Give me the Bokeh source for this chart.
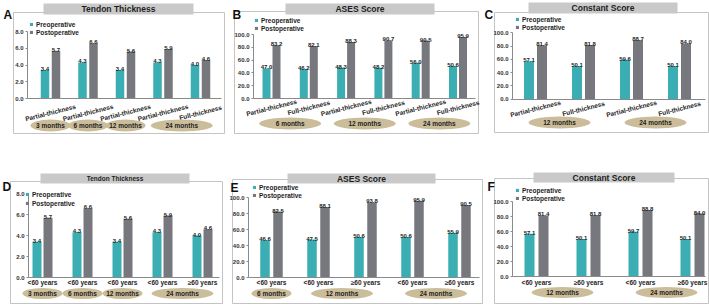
from bokeh.plotting import figure
from bokeh.models import (Range1d, FixedTicker, PrintfTickFormatter, BoxAnnotation,
                          Label, Legend, LegendItem)
from bokeh.layouts import column, row
from bokeh.core.properties import value
from bokeh.embed import file_html
from bokeh.resources import INLINE

# ---------------- data ----------------
A_pre = [3.4, 4.3, 3.4, 4.3, 4.0]
A_post = [5.7, 6.6, 5.6, 5.9, 4.6]
A_cats = ["Partial-thickness", "Partial-thickness", "Partial-thickness", "Partial-thickness", "Full-thickness"]
A_periods = ["3 months", "6 months", "12 months", "24 months"]
A_period_of = [0, 1, 2, 3, 3]

B_pre = [47.0, 46.2, 48.3, 48.2, 56.0, 50.6]
B_post = [83.2, 82.1, 88.3, 90.7, 90.5, 95.9]
B_cats = ["Partial-thickness", "Full-thickness", "Partial-thickness", "Full-thickness", "Partial-thickness", "Full-thickness"]
B_periods = ["6 months", "12 months", "24 months"]
B_period_of = [0, 0, 1, 1, 2, 2]

C_pre = [57.1, 50.1, 59.6, 50.1]
C_post = [81.4, 81.8, 88.7, 84.0]
C_cats = ["Partial-thickness", "Full-thickness", "Partial-thickness", "Full-thickness"]
C_periods = ["12 months", "24 months"]
C_period_of = [0, 0, 1, 1]

D_pre = [3.4, 4.3, 3.4, 4.3, 4.0]
D_post = [5.7, 6.6, 5.6, 5.9, 4.6]
D_cats = ["<60 years", "<60 years", "<60 years", "<60 years", "\u226560 years"]
D_periods = ["3 months", "6 months", "12 months", "24 months"]
D_period_of = [0, 1, 2, 3, 3]

E_pre = [46.6, 47.5, 50.6, 50.6, 55.9]
E_post = [82.5, 88.1, 93.8, 95.9, 90.5]
E_cats = ["<60 years", "<60 years", "\u226560 years", "<60 years", "\u226560 years"]
E_periods = ["6 months", "12 months", "24 months"]
E_period_of = [0, 1, 1, 2, 2]

F_pre = [57.1, 50.1, 59.7, 50.1]
F_post = [81.4, 81.8, 88.8, 84.0]
F_cats = ["<60 years", "\u226560 years", "<60 years", "\u226560 years"]
F_periods = ["12 months", "24 months"]
F_period_of = [0, 0, 1, 1]

thick_ticks = [0, 2, 4, 6, 8]
score_ticks = [0, 20, 40, 60, 80, 100]

# ---------------- style ----------------
TEAL = "#3aaeb2"
GRAY = "#77787d"
TAN = "#cbbd9a"
BARC = "#c9c9c9"
BOXC = "#c4c4c4"
AX = "#8a8a8a"
TXT = "#1e1e1e"
FONT = "Liberation Sans"


def panel(letter, title, pre, post, cats, periods, period_of, yticks, g):
    W, H = g["W"], g["H"]
    p = figure(width=W, height=H, output_backend="svg", toolbar_location=None,
               min_border=0, min_border_left=0, min_border_right=0,
               min_border_top=0, min_border_bottom=0)
    p.outline_line_color = None
    p.grid.visible = False
    sp = g["sp"]
    s = g["s"]
    x0 = -g["g0"] / sp
    p.x_range = Range1d(x0, x0 + W / sp)
    p.y_range = Range1d(-(H - g["base"]) / s, g["base"] / s)

    def dx(px):
        return x0 + px / sp

    def dy(px):
        return (g["base"] - px) / s

    bl, br, bt, bb = g["box"]

    # y axis (placed inside the frame at the axis position)
    ya = p.yaxis[0]
    ya.fixed_location = dx(g["axis"])
    ya.ticker = FixedTicker(ticks=yticks)
    ya.formatter = PrintfTickFormatter(format="%.1f")
    ya.bounds = (yticks[0], yticks[-1])
    ya.major_tick_out = 2
    ya.major_tick_in = 0
    ya.minor_tick_out = 0
    ya.minor_tick_in = 0
    ya.axis_line_color = AX
    ya.major_tick_line_color = AX
    ya.major_label_standoff = 2
    ya.major_label_text_font = FONT
    ya.major_label_text_font_style = "bold"
    ya.major_label_text_font_size = "6px"
    ya.major_label_text_color = "#333333"

    # x axis used as the zero baseline only
    xa = p.xaxis[0]
    xa.fixed_location = 0
    xa.bounds = (dx(g["axis"]), dx(br - 3))
    xa.ticker = FixedTicker(ticks=[])
    xa.major_tick_line_color = None
    xa.minor_tick_line_color = None
    xa.major_label_text_font_size = "0px"
    xa.axis_line_color = AX

    # outer box and title bar
    p.add_layout(BoxAnnotation(left=dx(bl), right=dx(br), top=dy(bt), bottom=dy(bb),
                               fill_alpha=0, line_color=BOXC, line_alpha=1, line_width=1,
                               level="underlay"))
    tl, tr, tt, tb = g["tbar"]
    p.add_layout(BoxAnnotation(left=dx(tl), right=dx(tr), top=dy(tt), bottom=dy(tb),
                               fill_color=BARC, fill_alpha=1, line_color=None))

    n = len(pre)
    idx = list(range(n))
    bw = g["bw"] / sp
    off = g["off"] / sp
    r1 = p.vbar(x=[i - off for i in idx], top=pre, width=bw, fill_color=TEAL, line_color=None)
    r2 = p.vbar(x=[i + off for i in idx], top=post, width=bw, fill_color=GRAY, line_color=None)

    common = dict(text_font=value(FONT), text_font_style="bold", text_color=TXT,
                  text_align="center")
    p.text(x=[i - off for i in idx], y=pre, text=["%.1f" % v for v in pre],
           text_baseline="alphabetic", y_offset=-1, text_font_size="6px", **common)
    p.text(x=[i + off for i in idx], y=post, text=["%.1f" % v for v in post],
           text_baseline="alphabetic", y_offset=-1, text_font_size="6px", **common)

    p.text(x=idx, y=[dy(g["xl"])] * n, text=cats, angle=g["ang"],
           text_baseline="middle", text_font_size="6.5px", **common)

    cx, cw = [], []
    for k in range(len(periods)):
        members = [i for i in idx if period_of[i] == k]
        cx.append(sum(members) / len(members))
        cw.append(40 if len(members) == 1 else 62)
    ey = dy(g["el"])
    p.ellipse(x=cx, y=[ey] * len(cx), width=cw, height=g["eh"],
              width_units="screen", height_units="screen",
              fill_color=TAN, line_color=None)
    p.text(x=cx, y=[ey] * len(cx), text=periods, text_baseline="middle",
           text_font_size="6.5px", **common)

    p.add_layout(Label(x=dx((tl + tr) / 2), y=dy((tt + tb) / 2),
                       text=title, text_align="center", text_baseline="middle",
                       text_font=FONT, text_font_style="bold",
                       text_font_size=g["tsize"], text_color=TXT))
    lx, ly = g["letter"]
    p.add_layout(Label(x=dx(lx), y=dy(ly), text=letter,
                       text_align="left", text_baseline="top", text_font=FONT,
                       text_font_style="bold", text_font_size="12px", text_color="#111111"))

    lgx, lgy = g["leg"]
    lh = g["lh"]
    leg = Legend(items=[LegendItem(label="Preoperative", renderers=[r1]),
                        LegendItem(label="Postoperative", renderers=[r2])],
                 location=(lgx, H - lgy - 2 * lh), orientation="vertical",
                 glyph_width=4, glyph_height=4, label_height=lh, spacing=0,
                 padding=0, margin=0, label_standoff=3,
                 border_line_color=None, background_fill_alpha=0,
                 label_text_font=FONT, label_text_font_style="bold",
                 label_text_font_size="6.5px", label_text_color=TXT)
    p.add_layout(leg)
    return p


# layout geometry (pixels inside each panel)
gA = dict(W=231, H=140, axis=27, base=98, s=67 / 8, g0=50, sp=37.5,
          bw=8.5, off=5.5, xl=112, ang=0.25, el=125, eh=12,
          box=(13, 224, 12, 133), tbar=(43, 193, 3, 14), tsize="8.5px",
          letter=(3, 7.7), leg=(29, 20), lh=8)
gB = dict(W=250, H=140, axis=22, base=98, s=0.64, g0=40, sp=37.3,
          bw=8, off=5, xl=107, ang=0.25, el=123, eh=12,
          box=(3, 247, 11, 133), tbar=(54, 203, 3, 14), tsize="8.5px",
          letter=(1, 7.7), leg=(23, 16), lh=8)
gC = dict(W=228, H=140, axis=31, base=98.7, s=0.664, g0=54, sp=48,
          bw=10, off=6.5, xl=108, ang=0.25, el=122, eh=12,
          box=(13, 227, 12, 132), tbar=(47, 196, 2, 13), tsize="8.5px",
          letter=(3, 7.7), leg=(34, 15), lh=8)
gD = dict(W=229, H=165, axis=28, base=137, s=10.5, g0=42, sp=40,
          bw=9, off=5.5, xl=142, ang=0, el=153, eh=11,
          box=(10, 222, 41, 163), tbar=(40, 189, 33, 43), tsize="6.5px",
          letter=(2, 39.7), leg=(25, 49.5), lh=9)
gE = dict(W=255, H=165, axis=19, base=137, s=0.8, g0=42, sp=47,
          bw=9.5, off=6.5, xl=142, ang=0, el=153, eh=11,
          box=(3, 253, 39, 163), tbar=(58, 206, 33, 43), tsize="8.5px",
          letter=(1, 40.7), leg=(23, 43), lh=8)
gF = dict(W=225, H=165, axis=28, base=136, s=0.75, g0=52, sp=52,
          bw=10, off=7, xl=142, ang=0, el=152, eh=11,
          box=(10, 224, 38, 163), tbar=(49, 190, 32, 42), tsize="8.5px",
          letter=(3, 39.7), leg=(31, 46), lh=8)

pA = panel("A", "Tendon Thickness", A_pre, A_post, A_cats, A_periods, A_period_of, thick_ticks, gA)
pB = panel("B", "ASES Score", B_pre, B_post, B_cats, B_periods, B_period_of, score_ticks, gB)
pC = panel("C", "Constant Score", C_pre, C_post, C_cats, C_periods, C_period_of, score_ticks, gC)
pD = panel("D", "Tendon Thickness", D_pre, D_post, D_cats, D_periods, D_period_of, thick_ticks, gD)
pE = panel("E", "ASES Score", E_pre, E_post, E_cats, E_periods, E_period_of, score_ticks, gE)
pF = panel("F", "Constant Score", F_pre, F_post, F_cats, F_periods, F_period_of, score_ticks, gF)

layout = column(row(pA, pB, pC), row(pD, pE, pF))
open("out.html", "w").write(file_html(layout, INLINE))
